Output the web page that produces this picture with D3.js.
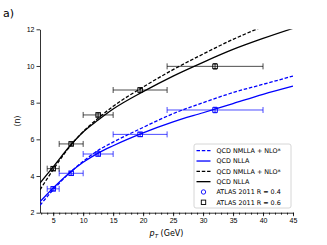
<!DOCTYPE html>
<html>
<head>
<meta charset="utf-8">
<script src="https://cdn.jsdelivr.net/npm/d3@7"></script>
<style>
  body { margin: 0; background: #fff; }
  svg { font-family: "DejaVu Sans", sans-serif; }
  .tick text { font-size: 7px; fill: #000; }
  .legend text { font-size: 6.4px; fill: #000; }
</style>
</head>
<body>
<svg id="chart" width="327" height="245"></svg>
<script>
// theory curves
var ptGrid = [2.8, 5, 8, 10, 12.5, 15, 20, 25, 30, 35, 40, 45];
var blackNLLA = [3.62, 4.5, 5.72, 6.4, 7.05, 7.65, 8.6, 9.45, 10.2, 10.9, 11.5, 12.05];
var blackNMLLA = [3.25, 4.35, 5.7, 6.42, 7.15, 7.8, 8.85, 9.8, 10.65, 11.45, 12.15, 12.8];
var blueNLLA = [2.6, 3.35, 4.25, 4.75, 5.25, 5.65, 6.35, 6.95, 7.45, 7.95, 8.45, 8.9];
var blueNMLLA = [2.4, 3.25, 4.25, 4.8, 5.4, 5.85, 6.65, 7.4, 8.0, 8.55, 9.0, 9.45];

// ATLAS 2011 data
var ptCenter = [5, 8, 12.5, 19.5, 32];
var binLo = [4, 6, 10, 15, 24];
var binHi = [6, 10, 15, 24, 40];
var nR04 = [3.3, 4.15, 5.2, 6.27, 7.6];
var nR06 = [4.4, 5.75, 7.33, 8.69, 9.98];
var nErr = [0.1, 0.1, 0.1, 0.12, 0.15];

var xTicks = [5, 10, 15, 20, 25, 30, 35, 40, 45];
var yTicks = [2, 4, 6, 8, 10, 12];

var legendLabels = ["QCD NMLLA + NLO*", "QCD NLLA", "QCD NMLLA + NLO*", "QCD NLLA",
                    "ATLAS 2011 R = 0.4", "ATLAS 2011 R = 0.6"];

var plotL = 40, plotR = 293, plotT = 29.3, plotB = 212.7;
var svg = d3.select("#chart");

var x = d3.scaleLinear().domain([2.8, 45]).range([plotL, plotR]);
var y = d3.scaleLinear().domain([2, 12]).range([plotB, plotT]);

svg.append("defs").append("clipPath").attr("id", "plotclip")
   .append("rect").attr("x", plotL).attr("y", plotT)
   .attr("width", plotR - plotL).attr("height", plotB - plotT);

// axes
svg.append("g")
   .attr("transform", "translate(0," + plotB + ")")
   .call(d3.axisBottom(x).tickValues(d3.range(3, 46, 1)).tickSize(2).tickFormat(""))
   .call(function(g) { g.select(".domain").remove(); });

svg.append("g")
   .attr("transform", "translate(0," + plotB + ")")
   .call(d3.axisBottom(x).tickValues(xTicks).tickSize(3.5).tickSizeOuter(0).tickPadding(2));

svg.append("g")
   .attr("transform", "translate(" + plotL + ",0)")
   .call(d3.axisLeft(y).tickValues(yTicks).tickSize(3.5).tickSizeOuter(0).tickPadding(2));

svg.selectAll(".domain, .tick line").attr("stroke", "#000").attr("stroke-width", 0.8);

// labels
svg.append("text").attr("x", 3).attr("y", 17).attr("font-size", 11).text("a)");

svg.append("text")
   .attr("transform", "translate(20," + ((plotT + plotB) / 2) + ") rotate(-90)")
   .attr("text-anchor", "middle").attr("font-size", 8)
   .text("\u27E8n\u27E9");

var xl = svg.append("text")
   .attr("x", (plotL + plotR) / 2).attr("y", 236)
   .attr("text-anchor", "middle").attr("font-size", 8);
xl.append("tspan").attr("font-style", "italic").text("p");
xl.append("tspan").attr("font-size", 5.5).attr("dy", 1.5).attr("font-style", "italic").text("T");
xl.append("tspan").attr("dy", -1.5).text(" (GeV)");

// curves
var curves = [
  { vals: blueNMLLA, color: "#0000ff", dash: "3.5,1.8" },
  { vals: blueNLLA, color: "#0000ff", dash: null },
  { vals: blackNMLLA, color: "#000", dash: "3.5,1.8" },
  { vals: blackNLLA, color: "#000", dash: null }
];

var line = d3.line()
   .x(function(d) { return x(d[0]); })
   .y(function(d) { return y(d[1]); })
   .curve(d3.curveMonotoneX);

var plot = svg.append("g").attr("clip-path", "url(#plotclip)");

curves.forEach(function(c) {
  plot.append("path")
      .datum(ptGrid.map(function(p, i) { return [p, c.vals[i]]; }))
      .attr("d", line)
      .attr("fill", "none")
      .attr("stroke", c.color)
      .attr("stroke-width", 1.3)
      .attr("stroke-dasharray", c.dash);
});

// data points with error bars
function drawData(vals, color) {
  var g = svg.append("g");
  ptCenter.forEach(function(p, i) {
    var cy = y(vals[i]);
    g.append("line").attr("x1", x(binLo[i])).attr("x2", x(binHi[i]))
     .attr("y1", cy).attr("y2", cy)
     .attr("stroke", color).attr("stroke-width", 1).attr("stroke-opacity", 0.7);
    [binLo[i], binHi[i]].forEach(function(b) {
      g.append("line").attr("x1", x(b)).attr("x2", x(b))
       .attr("y1", cy - 3).attr("y2", cy + 3)
       .attr("stroke", color).attr("stroke-width", 1).attr("stroke-opacity", 0.7);
    });
    var y1 = y(vals[i] + nErr[i]), y2 = y(vals[i] - nErr[i]);
    g.append("line").attr("x1", x(p)).attr("x2", x(p)).attr("y1", y1).attr("y2", y2)
     .attr("stroke", color).attr("stroke-width", 0.8);
    [y1, y2].forEach(function(yy) {
      g.append("line").attr("x1", x(p) - 2).attr("x2", x(p) + 2)
       .attr("y1", yy).attr("y2", yy)
       .attr("stroke", color).attr("stroke-width", 0.8);
    });
    g.append("rect").attr("x", x(p) - 2.3).attr("y", cy - 2.3)
     .attr("width", 4.6).attr("height", 4.6)
     .attr("fill", "none").attr("stroke", color).attr("stroke-width", 0.9);
  });
}
drawData(nR04, "#0000ff");
drawData(nR06, "#000");

// legend
var lg = svg.append("g").attr("class", "legend");
lg.append("rect").attr("x", 194).attr("y", 144).attr("width", 97).attr("height", 64)
  .attr("rx", 2).attr("fill", "#fff").attr("fill-opacity", 0.85)
  .attr("stroke", "#ccc").attr("stroke-width", 0.8);

var rowY = d3.scaleLinear().domain([0, 5]).range([150.7, 202.3]);
legendLabels.forEach(function(label, i) {
  var yy = rowY(i);
  if (i < 4) {
    lg.append("line").attr("x1", 196.5).attr("x2", 210.5).attr("y1", yy).attr("y2", yy)
      .attr("stroke", curves[i].color).attr("stroke-width", 1.3)
      .attr("stroke-dasharray", curves[i].dash);
  } else if (i === 4) {
    lg.append("circle").attr("cx", 203.5).attr("cy", yy).attr("r", 2.2)
      .attr("fill", "none").attr("stroke", "#0000ff").attr("stroke-width", 0.9);
  } else {
    lg.append("rect").attr("x", 201.3).attr("y", yy - 2.2).attr("width", 4.4).attr("height", 4.4)
      .attr("fill", "none").attr("stroke", "#000").attr("stroke-width", 0.9);
  }
  lg.append("text").attr("x", 216.5).attr("y", yy + 2.3).text(label);
});
</script>
</body>
</html>
